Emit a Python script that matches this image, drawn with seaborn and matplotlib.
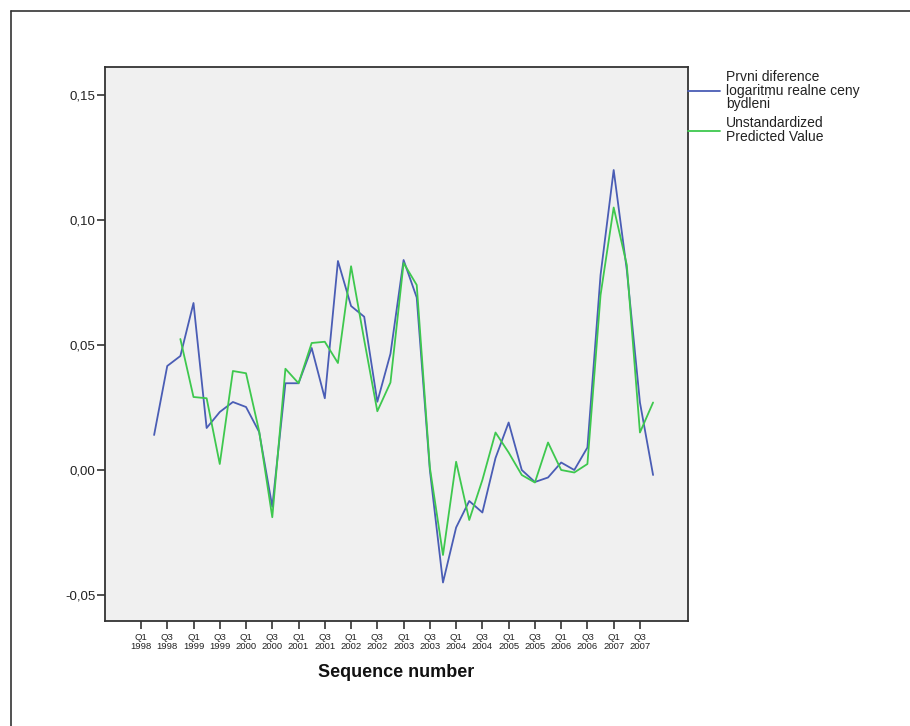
import numpy as np
import pandas as pd
import seaborn as sns
import matplotlib.pyplot as plt
from matplotlib.lines import Line2D
from matplotlib.ticker import FuncFormatter

# quarters Q1 1998 .. Q4 2007
years = [1998, 1999, 2000, 2001, 2002, 2003, 2004, 2005, 2006, 2007]

label_actual = "Prvni diference\nlogaritmu realne ceny\nbydleni"
label_pred = "Unstandardized\nPredicted Value"

nan = np.nan
actual = [nan, 0.014, 0.0416, 0.0456, 0.0668, 0.0168, 0.0232, 0.0272, 0.0252, 0.0152,
          -0.0147, 0.0347, 0.0347, 0.0488, 0.0287, 0.0836, 0.0656, 0.0613, 0.0273, 0.0465,
          0.084, 0.069, 0.000, -0.045, -0.023, -0.0124, -0.017, 0.0048, 0.019, 0.000,
          -0.0048, -0.003, 0.003, 0.000, 0.009, 0.078, 0.120, 0.080, 0.027, -0.002]
predicted = [nan, nan, nan, 0.0524, 0.0292, 0.0287, 0.0024, 0.0396, 0.0387, 0.0155,
             -0.0189, 0.0405, 0.0347, 0.0508, 0.0513, 0.0428, 0.0815, 0.052, 0.0235, 0.035,
             0.0828, 0.074, 0.001, -0.034, 0.0033, -0.020, -0.004, 0.015, 0.007, -0.002,
             -0.005, 0.011, 0.000, -0.001, 0.0024, 0.070, 0.105, 0.082, 0.015, 0.027]

tick_labels = [f"{q}\n{y}" for y in years for q in ("Q1", "Q3")]

seq = np.arange(len(actual))
df = pd.concat([
    pd.DataFrame({"seq": seq, "value": actual, "series": label_actual}),
    pd.DataFrame({"seq": seq, "value": predicted, "series": label_pred}),
]).dropna()

sns.set_style("white")
plt.rcParams["font.family"] = ["Liberation Sans", "DejaVu Sans"]

fig = plt.figure(figsize=(9.1, 7.26), dpi=100)
ax = fig.add_axes([105 / 910, 105 / 726, 583 / 910, 554 / 726])
ax.set_facecolor("#f0f0f0")

palette = {label_actual: "#4a5db5", label_pred: "#3ec84e"}
sns.lineplot(data=df, x="seq", y="value", hue="series",
             hue_order=[label_actual, label_pred], palette=palette,
             linewidth=1.3, ax=ax, estimator=None, sort=True)

ax.set_xlim(-2.74, 41.66)
ax.set_ylim(-0.0604, 0.1612)

ax.set_xticks(np.arange(0, 40, 2))
ax.set_xticklabels(tick_labels, fontsize=6.8, color="#222222")
for lbl in ax.get_xticklabels():
    lbl.set_linespacing(0.95)
ax.set_yticks([-0.05, 0.0, 0.05, 0.10, 0.15])
ax.yaxis.set_major_formatter(FuncFormatter(lambda v, p: f"{v:.2f}".replace(".", ",")))
ax.tick_params(axis="y", labelsize=9.5, labelcolor="#222222", length=6, width=1.2,
               color="#333333", pad=1, left=True)
ax.tick_params(axis="x", length=6, width=1.2, color="#333333", pad=3, bottom=True)

for s in ax.spines.values():
    s.set_color("#333333")
    s.set_linewidth(1.3)

ax.set_ylabel("")
ax.set_xlabel("Sequence number", fontsize=13, fontweight="bold", color="#111111")
ax.xaxis.set_label_coords(0.5, -0.077)

handles, labels = ax.get_legend_handles_labels()
leg = ax.legend(handles, labels, loc="upper left", bbox_to_anchor=(1.0, 0.995),
                frameon=False, borderaxespad=0, borderpad=0, handlelength=2.3,
                handletextpad=0.45, labelspacing=0.35, fontsize=10)
for t in leg.get_texts():
    t.set_linespacing(0.98)
    t.set_color("#222222")

# outer frame (left and top edges only)
fig.add_artist(Line2D([11 / 910, 11 / 910], [0, 1 - 11 / 726], color="#333333", lw=1.2))
fig.add_artist(Line2D([11 / 910, 1], [1 - 11 / 726, 1 - 11 / 726], color="#333333", lw=1.2))

fig.savefig("out.png", dpi=100)
